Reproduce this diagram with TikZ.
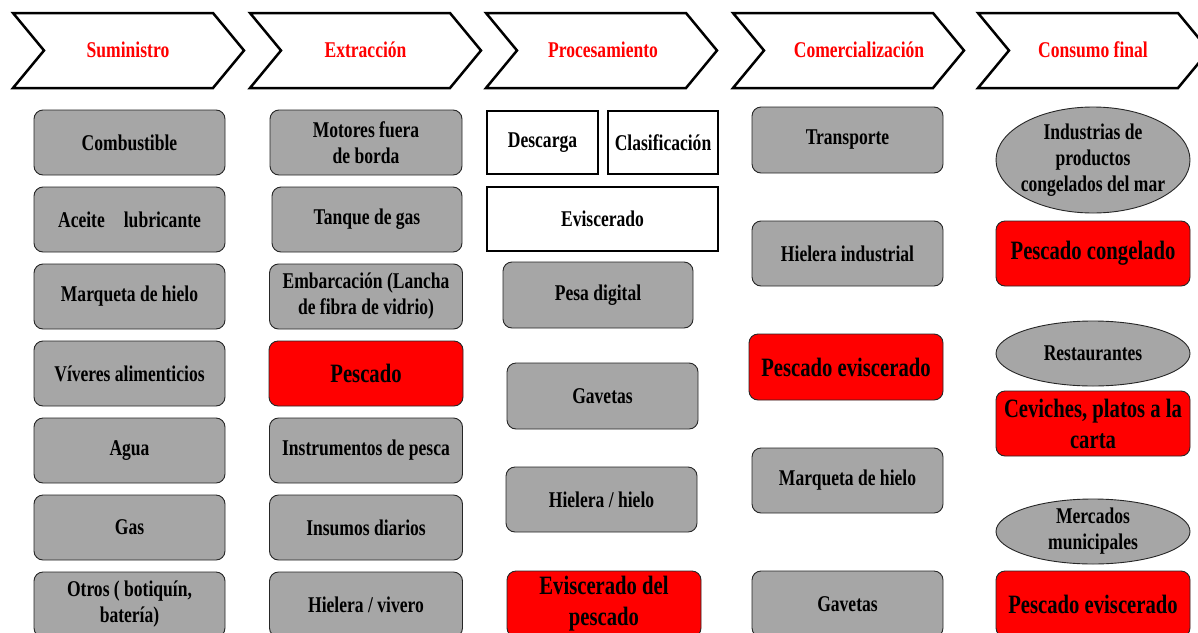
\documentclass[tikz,border=0pt]{standalone}
\usepackage{fontspec}
\setmainfont{Liberation Serif}[FakeStretch=0.78]
\usetikzlibrary{shapes.geometric}
\definecolor{boxgrey}{RGB}{166,166,166}
\definecolor{boxred}{RGB}{255,0,0}
\begin{document}
\begin{tikzpicture}[x=1pt,y=-1pt,
  base/.style={align=center, inner sep=0pt, font=\bfseries\fontsize{22.5}{26}\selectfont},
  gbox/.style={base, rounded corners=9pt, fill=boxgrey, draw=black!85, line width=0.9pt},
  rbox/.style={gbox, fill=boxred, font=\bfseries\fontsize{26.5}{31}\selectfont},
  wbox/.style={base, draw=black, line width=2pt, fill=white},
  txt/.style={base},
  ttl/.style={base, text=boxred},
  chev/.style={draw=black, line width=2.5pt, line join=miter, fill=white},
  ell/.style={fill=boxgrey, draw=black!85, line width=0.9pt},
  w191/.style={minimum width=191pt, minimum height=65pt}
]
\useasboundingbox (0,0) rectangle (1198,632);
\clip (0,0) rectangle (1198,632);
\fill[white] (0,0) rectangle (1198,632);

% chevrons
\foreach \x in {13,250,486,733,978}{
  \draw[chev] (\x,13) -- (\x+200,13) -- (\x+231,50.5) -- (\x+200,88) -- (\x,88) -- (\x+31,50.5) -- cycle;
}
\node[ttl] (t1) at (128,50) {Suministro};
\node[ttl] (t2) at (365.5,50) {Extracción};
\node[ttl] (t3) at (603,50) {Procesamiento};
\node[ttl] (t4) at (859,50) {Comercialización};
\node[ttl] (t5) at (1093,50) {Consumo final};

% column 1
\node[gbox, w191] (a1) at (129.5,142.5) {Combustible};
\node[gbox, w191] (a2) at (129.5,219.5) {Aceite\hspace{19pt}lubricante};
\node[gbox, w191] (a3) at (129.5,296.5) {Marqueta de hielo};
\node[gbox, w191] (a4) at (129.5,373.5) {Víveres alimenticios};
\node[gbox, w191] (a5) at (129.5,450.5) {Agua};
\node[gbox, w191] (a6) at (129.5,527.5) {Gas};
\node[gbox, w191] (a7) at (129.5,604.5) {Otros ( botiquín,\\batería)};

% column 2
\node[gbox, w191, minimum width=192pt] (b1) at (366,142.5) {Motores fuera\\de borda};
\node[gbox, w191, minimum width=190pt] (b2) at (367,219.5) {Tanque de gas};
\node[gbox, w191, minimum width=193pt] (b3) at (366,296.5) {Embarcación (Lancha\\de fibra de vidrio)};
\node[rbox, w191, minimum width=194pt] (b4) at (366,373.5) {Pescado};
\node[gbox, w191, minimum width=193pt] (b5) at (366,450.5) {Instrumentos de pesca};
\node[gbox, w191, minimum width=193pt] (b6) at (366,527.5) {Insumos diarios};
\node[gbox, w191, minimum width=193pt] (b7) at (366,604.5) {Hielera / vivero};

% column 3
\node[wbox, minimum width=111pt, minimum height=63pt] (c1) at (542.5,142.5) {Descarga};
\node[wbox, minimum width=110pt, minimum height=63pt] (c2) at (663,142.5) {Clasificación};
\node[wbox, minimum width=231pt, minimum height=64pt] (c3) at (602.5,219) {Eviscerado};
\node[gbox, minimum width=190pt, minimum height=66pt] (c4) at (598,295) {Pesa digital};
\node[gbox, minimum width=191pt, minimum height=66pt] (c5) at (602.5,396) {Gavetas};
\node[gbox, minimum width=191pt, minimum height=65pt] (c6) at (601.5,499.5) {Hielera / hielo};
\node[rbox, minimum width=194pt, minimum height=66pt] (c7) at (604,604) {Eviscerado del\\pescado};

% column 4
\node[gbox, minimum width=191pt, minimum height=66pt] (d1) at (847.5,140) {Transporte};
\node[gbox, minimum width=191pt, minimum height=65pt] (d2) at (847.5,253.5) {Hielera industrial};
\node[rbox, minimum width=194pt, minimum height=66pt] (d3) at (846,367) {Pescado eviscerado};
\node[gbox, minimum width=191pt, minimum height=65pt] (d4) at (847.5,480.5) {Marqueta de hielo};
\node[gbox, minimum width=191pt, minimum height=66pt] (d5) at (847.5,604) {Gavetas};

% column 5
\draw[ell] (1093,160) ellipse [x radius=97pt, y radius=53pt];
\node[txt] (e1) at (1093,160) {Industrias de\\productos\\congelados del mar};
\node[rbox, minimum width=194pt, minimum height=65pt] (e2) at (1093,253.5) {Pescado congelado};
\draw[ell] (1093,353.5) ellipse [x radius=97pt, y radius=32.5pt];
\node[txt] (e3) at (1093,353.5) {Restaurantes};
\node[rbox, minimum width=194pt, minimum height=65pt] (e4) at (1093,423.5) {Ceviches, platos a la\\carta};
\draw[ell] (1093,531.5) ellipse [x radius=97pt, y radius=32.5pt];
\node[txt] (e5) at (1093,531.5) {Mercados\\municipales};
\node[rbox, minimum width=194pt, minimum height=66pt] (e6) at (1093,604) {Pescado eviscerado};
\end{tikzpicture}
\end{document}
